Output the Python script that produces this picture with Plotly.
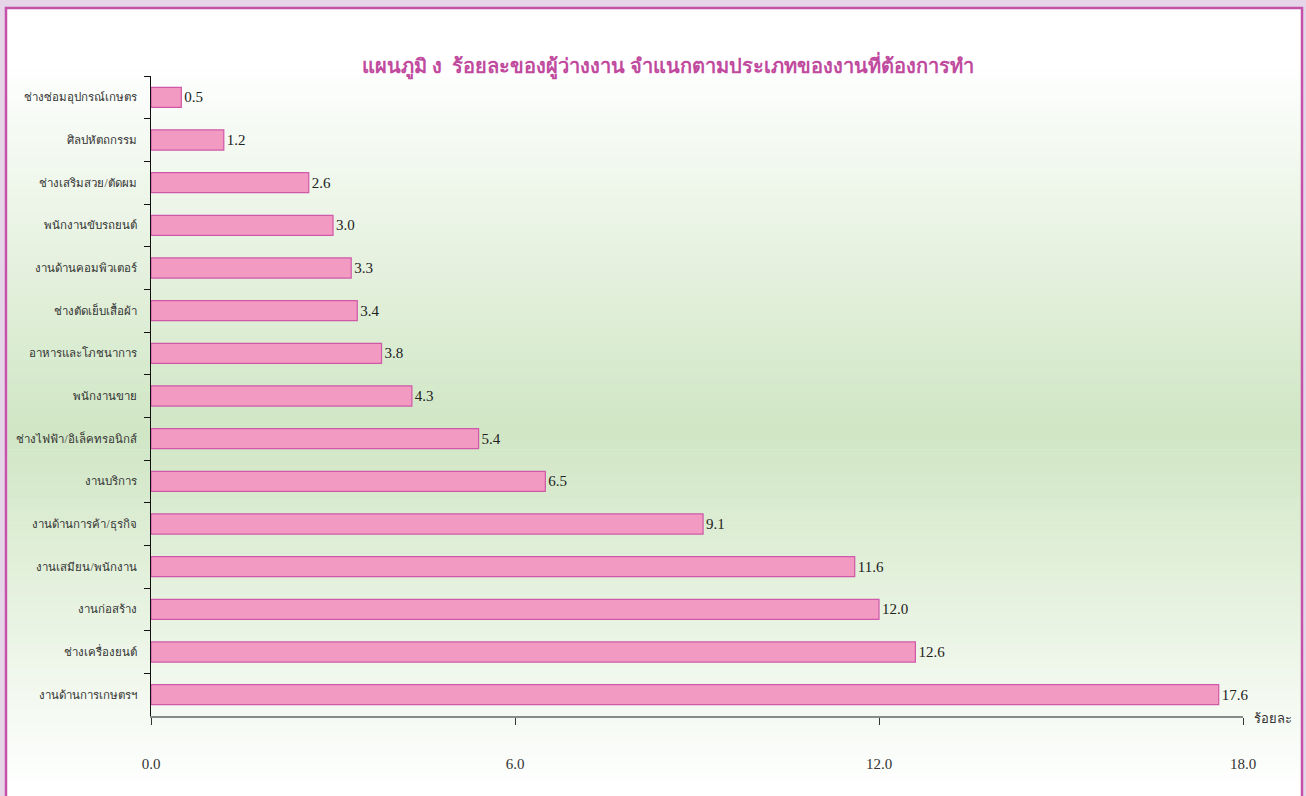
import plotly.graph_objects as go

categories = [
    "ช่างซ่อมอุปกรณ์เกษตร",
    "ศิลปหัตถกรรม",
    "ช่างเสริมสวย/ตัดผม",
    "พนักงานขับรถยนต์",
    "งานด้านคอมพิวเตอร์",
    "ช่างตัดเย็บเสื้อผ้า",
    "อาหารและโภชนาการ",
    "พนักงานขาย",
    "ช่างไฟฟ้า/อิเล็คทรอนิกส์",
    "งานบริการ",
    "งานด้านการค้า/ธุรกิจ",
    "งานเสมียน/พนักงาน",
    "งานก่อสร้าง",
    "ช่างเครื่องยนต์",
    "งานด้านการเกษตรฯ",
]
values = [0.5, 1.2, 2.6, 3.0, 3.3, 3.4, 3.8, 4.3, 5.4, 6.5, 9.1, 11.6, 12.0, 12.6, 17.6]
x_ticks = [0, 6, 12, 18]
x_ticktext = ["0.0", "6.0", "12.0", "18.0"]
title_text = "แผนภูมิ ง  ร้อยละของผู้ว่างงาน จำแนกตามประเภทของงานที่ต้องการทำ"
unit_text = "ร้อยละ"

W, H = 1306, 796
L, R, T, B = 151, 1243, 76, 716


def px(x):
    return (x - L) / (R - L)


def py(y):
    return (B - y) / (B - T)


SERIF = "Liberation Serif, Times New Roman, serif"

fig = go.Figure()
fig.add_trace(go.Bar(
    y=categories,
    x=values,
    orientation="h",
    width=0.47,
    marker=dict(color="#F39AC2", line=dict(color="#CF58A8", width=1.2)),
    text=values,
    texttemplate="%{x:.1f}",
    textposition="outside",
    textfont=dict(family=SERIF, size=15, color="#222222"),
    cliponaxis=False,
    hoverinfo="x+y",
))

shapes = []
# white panel
shapes.append(dict(type="rect", xref="paper", yref="paper",
                   x0=px(6), x1=px(1302), y0=py(805), y1=py(8),
                   fillcolor="white", line=dict(width=0), layer="below"))
# gradient background strips
top, peak, bot = 60.0, 430.0, 790.0
white = (255, 255, 255)
green = (208, 230, 196)
n = 90
for i in range(n):
    y0 = top + (bot - top) * i / n
    y1 = top + (bot - top) * (i + 1) / n
    ym = (y0 + y1) / 2
    if ym <= peak:
        f = (ym - top) / (peak - top)
    else:
        f = (bot - ym) / (bot - peak)
    c = tuple(round(white[k] + (green[k] - white[k]) * f) for k in range(3))
    shapes.append(dict(type="rect", xref="paper", yref="paper",
                       x0=px(7.5), x1=px(1301), y0=py(y1 + 0.5), y1=py(y0),
                       fillcolor="rgb(%d,%d,%d)" % c, line=dict(width=0), layer="below"))
# magenta frame border
shapes.append(dict(type="rect", xref="paper", yref="paper",
                   x0=px(6), x1=px(1302), y0=py(810), y1=py(8),
                   fillcolor="rgba(0,0,0,0)", line=dict(color="#C452A8", width=2.5), layer="above"))
fig.update_layout(shapes=shapes)

fig.add_annotation(text="<b>" + title_text + "</b>", xref="paper", yref="paper",
                   x=px(668), y=py(65), xanchor="center", yanchor="middle",
                   showarrow=False, font=dict(family=SERIF, size=20, color="#C04A9E"))
fig.add_annotation(text=unit_text, xref="paper", yref="paper",
                   x=px(1252), y=py(718), xanchor="left", yanchor="middle",
                   showarrow=False, font=dict(family=SERIF, size=13, color="#333333"))

fig.update_layout(
    width=W, height=H,
    margin=dict(l=L, r=W - R, t=T, b=H - B, pad=0, autoexpand=False),
    paper_bgcolor="#E6D4E9",
    plot_bgcolor="rgba(0,0,0,0)",
    showlegend=False,
    bargap=0.53,
    xaxis=dict(range=[0, 18], tickvals=x_ticks, ticktext=x_ticktext,
               showline=True, linecolor="#8A8A8A", linewidth=2,
               ticks="outside", ticklen=7, tickcolor="#333333", tickwidth=1,
               showgrid=False, zeroline=False, ticklabelstandoff=26,
               automargin=False,
               tickfont=dict(family=SERIF, size=15, color="#333333")),
    yaxis=dict(type="category", autorange="reversed",
               showline=True, linecolor="#111111", linewidth=1,
               ticks="outside", tickson="boundaries", ticklen=6,
               tickcolor="#111111", tickwidth=1, showgrid=False,
               ticklabelstandoff=11, automargin=False,
               tickfont=dict(family=SERIF, size=11.5, color="#333333")),
)

fig.write_html("out.html", config={"displayModeBar": False},
               post_script="document.body.style.margin='0';document.body.style.overflow='hidden';")
